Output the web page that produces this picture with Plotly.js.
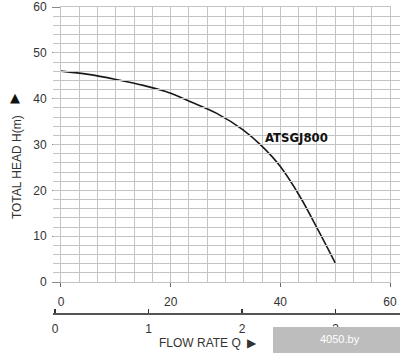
<!DOCTYPE html>
<html><head><meta charset="utf-8">
<script src="https://cdn.plot.ly/plotly-3.0.1.min.js"></script>
<style>html,body{margin:0;padding:0;background:#fff}#c{width:400px;height:353px}</style>
</head><body><div id="c"></div>
<script>
// Flow rate (L/min) and total head (m)
const flowLmin = [0, 5, 10, 15, 20, 23.5, 28.4, 33.2, 36.5, 40, 43.6, 46.9, 50];
const headM    = [46, 45.3, 44.2, 42.9, 41.2, 39.4, 36.8, 33.2, 29.8, 25.2, 18.6, 11.3, 4.2];
const modelName = "ATSGJ800";
const modelLabelPos = [42.9, 31.6];
const xTickVals = [0, 20, 40, 60];
const yTickVals = [0, 10, 20, 30, 40, 50, 60];
const q2TickVals = [0, 1, 2, 3];
const yTitle = "TOTAL HEAD H(m)";
const xTitle = "FLOW RATE Q";

const grid = '#c4c4c4';
const txt = '#333';
const fnt = 'Liberation Sans, Arial, sans-serif';

const traces = [
  {x: [], y: [], type: 'scatter', mode: 'markers', xaxis: 'x2', yaxis: 'y',
   showlegend: false, hoverinfo: 'skip'},
  {x: flowLmin, y: headM, type: 'scatter', mode: 'lines',
   line: {color: '#1a1a1a', width: 1.6, shape: 'spline', smoothing: 1},
   hoverinfo: 'skip', showlegend: false, xaxis: 'x', yaxis: 'y'}
];

const layout = {
  width: 400, height: 353,
  margin: {l: 53, r: 0, t: 7, b: 20},
  paper_bgcolor: '#fff', plot_bgcolor: 'rgba(0,0,0,0)',
  showlegend: false,
  font: {family: fnt, color: txt, size: 12},
  xaxis: {
    domain: [0.02305, 0.9712], anchor: 'y',
    range: [0, 60], tickvals: xTickVals,
    showgrid: true, gridcolor: grid, gridwidth: 1,
    minor: {dtick: 10/3, tick0: 0, showgrid: true, gridcolor: grid, gridwidth: 1},
    ticks: 'outside', ticklen: 4, tickcolor: '#666',
    showline: true, linecolor: grid, mirror: true,
    zeroline: false, ticklabelstandoff: 5,
    tickfont: {size: 12, color: txt}
  },
  yaxis: {
    domain: [0.1564, 1], anchor: 'x',
    range: [0, 60], tickvals: yTickVals,
    showgrid: true, gridcolor: grid, gridwidth: 1,
    minor: {dtick: 2, tick0: 0, showgrid: true, gridcolor: grid, gridwidth: 1},
    ticks: 'outside', ticklen: 8, tickcolor: '#888',
    showline: true, linecolor: grid, mirror: true,
    zeroline: false, ticklabelstandoff: 3,
    tickfont: {size: 12, color: txt}
  },
  xaxis2: {
    domain: [0, 1], anchor: 'free', position: 0.0583, side: 'bottom',
    range: [-0.0214, 3.69], tickvals: q2TickVals,
    showgrid: false, zeroline: false,
    showline: true, linecolor: '#555', linewidth: 2,
    ticks: 'inside', ticklen: 4, tickcolor: '#333', tickwidth: 1.5,
    ticklabelstandoff: 4,
    tickfont: {size: 12, color: txt}
  },
  annotations: [
    {x: modelLabelPos[0], y: modelLabelPos[1], xref: 'x', yref: 'y', text: '<b>' + modelName + '</b>',
     showarrow: false, xanchor: 'center', yanchor: 'middle',
     font: {family: 'Liberation Sans Narrow, DejaVu Sans Condensed, Arial Narrow, sans-serif', size: 13, color: '#111'}},
    {x: -0.1037, y: 0.509, xref: 'paper', yref: 'paper', text: yTitle, textangle: -90,
     xanchor: 'center', yanchor: 'middle',
     showarrow: false, font: {size: 12, color: txt}},
    {x: -0.1095, y: 0.721, xref: 'paper', yref: 'paper', text: '▲',
     xanchor: 'center', yanchor: 'middle',
     showarrow: false, font: {family: 'DejaVu Sans', size: 13, color: '#111'}},
    {x: 0.4467, y: -0.0307, xref: 'paper', yref: 'paper', text: xTitle + '  ▶',
     xanchor: 'center', yanchor: 'middle',
     showarrow: false, font: {size: 12, color: txt}},
    {x: 0.826, y: -0.017, xref: 'paper', yref: 'paper', text: '4050.by',
     xanchor: 'center', yanchor: 'middle',
     showarrow: false, font: {size: 11, color: '#fff'}}
  ],
  shapes: [
    {type: 'rect', xref: 'paper', yref: 'paper', x0: 0.634, x1: 1.0, y0: -0.0613, y1: 0.0184,
     fillcolor: '#bdbdbd', line: {width: 0}, layer: 'above'}
  ]
};
Plotly.newPlot('c', traces, layout, {staticPlot: true, displayModeBar: false});
</script></body></html>
